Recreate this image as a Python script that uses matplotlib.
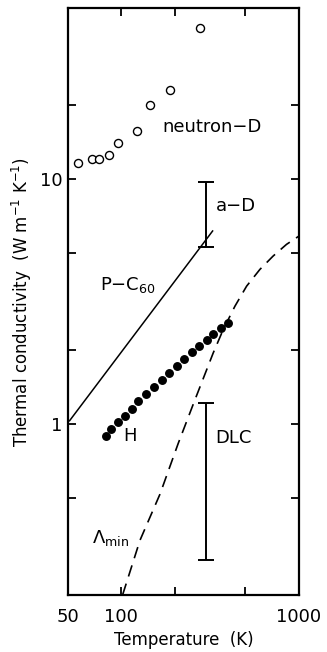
import numpy as np
import matplotlib
matplotlib.use("Agg")
import matplotlib.pyplot as plt
from matplotlib.ticker import FixedLocator, FixedFormatter, NullFormatter

# neutron-D (open circles)
neutron_T = [57.2, 68.0, 74.7, 85.4, 96.0, 122.3, 145.3, 187.0, 276.0]
neutron_k = [11.6, 12.1, 12.1, 12.6, 14.0, 15.7, 20.1, 23.2, 41.5]

# H (filled dots)
h_T = [81.5, 87.3, 96.0, 104.7, 114.3, 124.7, 137.5, 152.5, 168.6,
       186.0, 204.7, 226.0, 248.7, 274.5, 302.0, 329.0, 362.0, 396.5]
h_k = [0.895, 0.951, 1.016, 1.081, 1.152, 1.236, 1.321, 1.418, 1.514,
       1.614, 1.717, 1.842, 1.960, 2.074, 2.195, 2.338, 2.474, 2.587]

# P-C60 (solid line)
pc60_T = [51.0, 326.5]
pc60_k = [1.03, 6.14]

# Lambda_min (dashed curve)
lmin_T = [101.6, 127.2, 164.9, 209.0, 259.5, 329.0, 374.6, 436.0, 507.5, 603.0, 716.0, 852.0, 1000.0]
lmin_k = [0.2005, 0.3346, 0.5165, 0.833, 1.254, 1.949, 2.428, 3.025, 3.654, 4.277, 4.85, 5.414, 5.85]

# ranges at 300 K: a-D and DLC
bar_T = [300, 300]
bar_lo = [5.26, 0.279]
bar_hi = [9.7, 1.22]

# labels (text, T, k) - left/baseline anchor
labels = [
    ("neutron\u2212D", 171, 15.6),
    ("a\u2212D", 340, 7.4),
    ("P\u2212C$_{60}$", 75.7, 3.51),
    ("H", 102, 0.852),
    ("DLC", 340, 0.836),
    ("$\\Lambda_{\\rm min}$", 68.3, 0.325),
]

fig = plt.figure(figsize=(3.27, 6.52), dpi=100)
ax = fig.add_axes([0.208, 0.0874, 0.706, 0.9003])
ax.set_xscale("log")
ax.set_yscale("log")
ax.set_xlim(50, 1000)
ax.set_ylim(0.2, 50)

ax.plot(neutron_T, neutron_k, "o", mfc="white", mec="black", mew=1.0, ms=5.8, ls="none")
ax.plot(h_T, h_k, "o", color="black", ms=5.4, ls="none")
ax.plot(pc60_T, pc60_k, "-", color="black", lw=1.1)
ax.plot(lmin_T, lmin_k, color="black", lw=1.2, dashes=(7, 4.5))

for t, lo, hi in zip(bar_T, bar_lo, bar_hi):
    ax.vlines(t, lo, hi, color="black", lw=1.4)
    ax.plot([t, t], [lo, hi], ls="none", marker="_", ms=12, mew=1.4, color="black")

fs = 13
for txt, t, k in labels:
    ax.text(t, k, txt, fontsize=fs, ha="left", va="baseline")

ax.xaxis.set_major_locator(FixedLocator([50, 100, 1000]))
ax.xaxis.set_minor_locator(FixedLocator([200, 500]))
ax.yaxis.set_major_locator(FixedLocator([1, 10]))
ax.yaxis.set_minor_locator(FixedLocator([0.5, 2, 5, 20]))
ax.xaxis.set_major_formatter(FixedFormatter(["50", "100", "1000"]))
ax.yaxis.set_major_formatter(FixedFormatter(["1", "10"]))
ax.xaxis.set_minor_formatter(NullFormatter())
ax.yaxis.set_minor_formatter(NullFormatter())
ax.tick_params(which="both", direction="in", top=True, right=True, length=6, width=1.3,
               labelsize=fs)
ax.tick_params(axis="x", pad=9)
ax.tick_params(axis="y", pad=4)
for s in ax.spines.values():
    s.set_linewidth(1.6)

ax.set_xlabel("Temperature  (K)", fontsize=fs - 1, labelpad=4)
ax.set_ylabel("Thermal conductivity  (W m$^{-1}$ K$^{-1}$)", fontsize=fs - 1, labelpad=4)

fig.savefig("out.png", dpi=100)
